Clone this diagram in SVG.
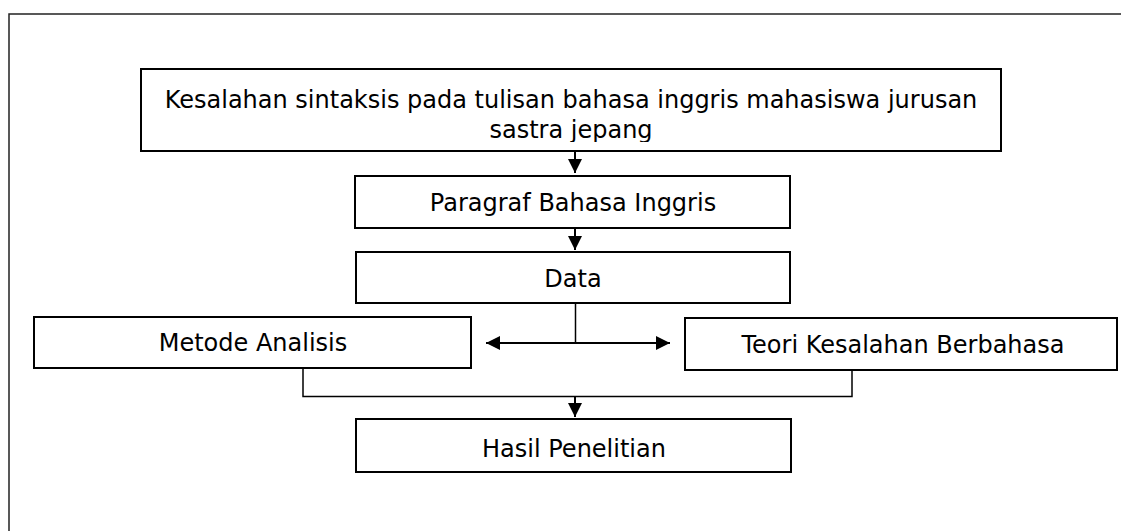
<svg xmlns="http://www.w3.org/2000/svg" width="1121" height="531" viewBox="0 0 1121 531">
  <defs>
    <marker id="arr" viewBox="0 0 14 14" refX="14" refY="7" markerWidth="14" markerHeight="14" markerUnits="userSpaceOnUse" orient="auto-start-reverse">
      <path d="M0,0 L14,7 L0,14 z" fill="#000"/>
    </marker>
    <clipPath id="clipTop">
      <rect x="141" y="69" width="860" height="73"/>
    </clipPath>
  </defs>
  <style>
    .box { fill: #fff; stroke: #000; stroke-width: 2; }
    .lbl { font-family: "DejaVu Sans", Verdana, sans-serif; font-size: 24px; fill: #000; text-anchor: middle; }
    .con { fill: none; stroke: #000; stroke-width: 1.5; }
    .arr { fill: none; stroke: #000; stroke-width: 2; }
  </style>
  <rect x="0" y="0" width="1121" height="531" fill="#fff"/>
  <rect id="frame" x="9" y="14" width="1200" height="600" fill="none" stroke="#222" stroke-width="1.5"/>

  <g id="connectors">
    <line class="arr" x1="575" y1="151" x2="575" y2="173" marker-end="url(#arr)"/>
    <line class="arr" x1="575" y1="228" x2="575" y2="250" marker-end="url(#arr)"/>
    <line class="con" x1="575.5" y1="303" x2="575.5" y2="343"/>
    <line class="arr" x1="486" y1="343" x2="670" y2="343" marker-start="url(#arr)" marker-end="url(#arr)"/>
    <polyline class="con" points="303,368 303,396.5 852,396.5 852,370"/>
    <line class="arr" x1="575" y1="396" x2="575" y2="417" marker-end="url(#arr)"/>
  </g>

  <g id="node-kesalahan">
    <rect class="box" x="141" y="69" width="860" height="82"/>
    <text class="lbl" x="571" y="108">Kesalahan sintaksis pada tulisan bahasa inggris mahasiswa jurusan</text>
    <text class="lbl" x="571" y="138" clip-path="url(#clipTop)">sastra jepang</text>
  </g>
  <g id="node-paragraf">
    <rect class="box" x="355" y="176" width="435" height="52"/>
    <text class="lbl" x="573" y="211">Paragraf Bahasa Inggris</text>
  </g>
  <g id="node-data">
    <rect class="box" x="356" y="252" width="434" height="51"/>
    <text class="lbl" x="573" y="286.5">Data</text>
  </g>
  <g id="node-metode">
    <rect class="box" x="34" y="317" width="437" height="51"/>
    <text class="lbl" x="253" y="351">Metode Analisis</text>
  </g>
  <g id="node-teori">
    <rect class="box" x="685" y="318" width="432" height="52"/>
    <text class="lbl" x="903" y="353">Teori Kesalahan Berbahasa</text>
  </g>
  <g id="node-hasil">
    <rect class="box" x="356" y="419" width="435" height="53"/>
    <text class="lbl" x="574" y="457">Hasil Penelitian</text>
  </g>
</svg>
